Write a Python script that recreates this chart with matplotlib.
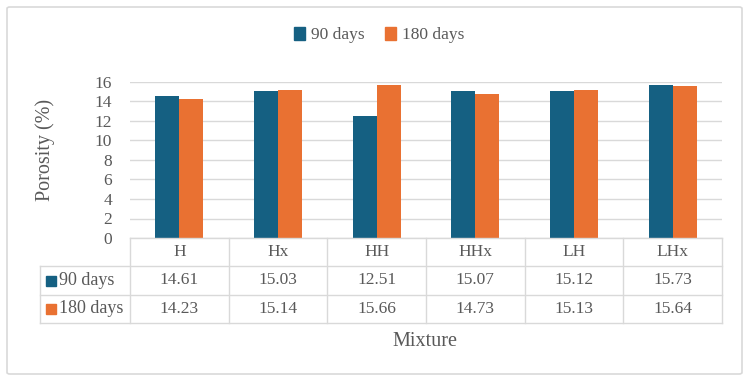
import numpy as np
import matplotlib.pyplot as plt
from matplotlib.patches import FancyBboxPatch, Patch

plt.rcParams['font.family'] = ['Liberation Serif', 'DejaVu Serif']

# 데이터
mixtures = ['H', 'Hx', 'HH', 'HHx', 'LH', 'LHx']
days90 = [14.61, 15.03, 12.51, 15.07, 15.12, 15.73]
days180 = [14.23, 15.14, 15.66, 14.73, 15.13, 15.64]
series_names = ['90 days', '180 days']
yticks = [0, 2, 4, 6, 8, 10, 12, 14, 16]

blue = '#156082'
orange = '#E97132'
grid_c = '#D9D9D9'
txt_c = '#595959'
fs = 12.5

W, H = 749, 381
fig = plt.figure(figsize=(W / 100, H / 100), dpi=100)

# 바깥 테두리
fig.patches.append(FancyBboxPatch((7 / W, 7 / H), 735 / W, 367 / H,
                                  boxstyle='round,pad=0,rounding_size=0.004',
                                  transform=fig.transFigure, fill=False,
                                  edgecolor=grid_c, linewidth=1.2))

# 막대 그래프
ax = fig.add_axes([130 / W, 1 - 238 / H, 592 / W, 156 / H])
x = np.arange(len(mixtures))
bw = 24 / 98.67
ax.bar(x - bw / 2, days90, bw, color=blue, zorder=3)
ax.bar(x + bw / 2, days180, bw, color=orange, zorder=3)
ax.set_xlim(-0.5, len(mixtures) - 0.5)
ax.set_ylim(0, 16)
ax.set_yticks(yticks)
ax.set_yticklabels([str(v) for v in yticks], fontsize=fs, color=txt_c)
ax.set_xticks([])
ax.tick_params(axis='y', length=0, pad=13)
ax.grid(axis='y', color=grid_c, linewidth=1, zorder=0)
for s in ax.spines.values():
    s.set_visible(False)

# 데이터 테이블
tab = fig.add_axes([40 / W, 1 - 323 / H, 682 / W, 85 / H])
x0 = -0.5 - 90 / 98.67
tab.set_xlim(x0, len(mixtures) - 0.5)
tab.set_ylim(3, 0)
tab.axis('off')
lw = 1
xe = len(mixtures) - 0.5
tab.plot([-0.5, xe], [0, 0], color=grid_c, lw=lw, clip_on=False)
for r in [1, 2, 3]:
    tab.plot([x0, xe], [r, r], color=grid_c, lw=lw, clip_on=False)
for i in range(len(mixtures) + 1):
    tab.plot([-0.5 + i, -0.5 + i], [0, 3], color=grid_c, lw=lw, clip_on=False)
tab.plot([x0, x0], [1, 3], color=grid_c, lw=lw, clip_on=False)

for i, m in enumerate(mixtures):
    tab.text(i, 0.5, m, ha='center', va='center', fontsize=fs, color=txt_c)
    tab.text(i, 1.5, f'{days90[i]:.2f}', ha='center', va='center', fontsize=fs, color=txt_c)
    tab.text(i, 2.5, f'{days180[i]:.2f}', ha='center', va='center', fontsize=fs, color=txt_c)

for r, (name, c) in enumerate(zip(series_names, [blue, orange])):
    tab.plot([x0 + 11 / 98.67], [1.5 + r], marker='s', markersize=7, color=c,
             linestyle='none', clip_on=False)
    tab.text(x0 + 19 / 98.67, 1.5 + r, name, ha='left', va='center',
             fontsize=13, color=txt_c)

# 범례
handles = [Patch(color=blue), Patch(color=orange)]
fig.legend(handles, series_names, loc='center', bbox_to_anchor=(379 / W, 1 - 35 / H),
           ncol=2, frameon=False, fontsize=fs, handlelength=0.65, handleheight=0.85,
           handletextpad=0.3, columnspacing=1.2, labelcolor=txt_c)

fig.text(45 / W, 1 - 150 / H, 'Porosity (%)', rotation=90, ha='center', va='center',
         fontsize=14.5, color=txt_c)
fig.text(425 / W, 1 - 341 / H, 'Mixture', ha='center', va='center',
         fontsize=14.5, color=txt_c)

fig.savefig('out.png', dpi=100)
